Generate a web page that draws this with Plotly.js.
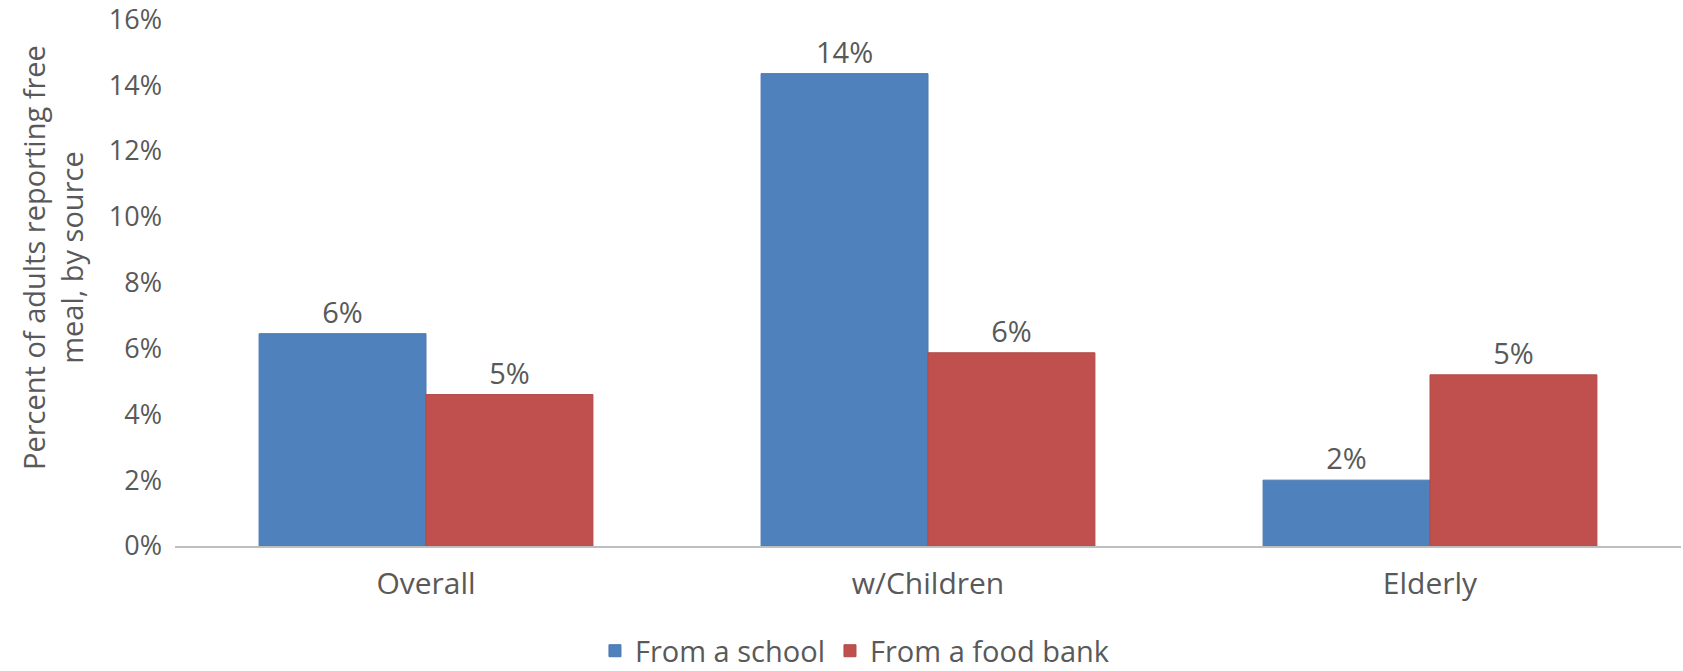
<!DOCTYPE html>
<html>
<head>
<meta charset="utf-8">
<script src="https://cdn.plot.ly/plotly-3.0.1.min.js"></script>
<style>html,body{margin:0;padding:0;background:#fff;}#chart{width:1683px;height:671px;}</style>
</head>
<body>
<div id="chart"></div>
<script>
const categories = ["Overall", "w/Children", "Elderly"];
const seriesNames = ["From a school", "From a food bank"];
const schoolValues = [0.0645, 0.1435, 0.020];
const foodBankValues = [0.046, 0.0587, 0.052];
const tickValues = [0, 0.02, 0.04, 0.06, 0.08, 0.10, 0.12, 0.14, 0.16];
const tickLabels = ["0%", "2%", "4%", "6%", "8%", "10%", "12%", "14%", "16%"];
const yTitle = "Percent of adults reporting free<br>meal, by source";

const FONT = "Open Sans, sans-serif";
const TXT = "#595959";

const traces = [
  {type: "bar", name: seriesNames[0], x: categories, y: schoolValues,
   marker: {color: "#4F81BD", line: {color: "#4A78B0", width: 1}},
   texttemplate: "%{y:.0%}", textposition: "outside", cliponaxis: false,
   textfont: {family: FONT, size: 29, color: TXT}, hoverinfo: "skip"},
  {type: "bar", name: seriesNames[1], x: categories, y: foodBankValues,
   marker: {color: "#C0504D", line: {color: "#B04A47", width: 1}},
   texttemplate: "%{y:.0%}", textposition: "outside", cliponaxis: false,
   textfont: {family: FONT, size: 29, color: TXT}, hoverinfo: "skip"}
];

const layout = {
  width: 1683, height: 671,
  margin: {l: 175, r: 2, t: 19, b: 125},
  paper_bgcolor: "#ffffff", plot_bgcolor: "#ffffff",
  font: {family: FONT, size: 26, color: TXT},
  barmode: "group", bargap: 0.335, bargroupgap: 0,
  showlegend: true,
  legend: {orientation: "h", xref: "container", yref: "container", x: 0.508, xanchor: "center",
           y: 0.03, yanchor: "middle", font: {family: FONT, size: 29, color: TXT}, traceorder: "normal",
           itemwidth: 30},
  xaxis: {type: "category", showgrid: false, zeroline: false, showline: true, linecolor: "#BFBFBF", linewidth: 2,
          ticks: "", ticklabelstandoff: 10, tickfont: {family: FONT, size: 30, color: TXT}},
  yaxis: {range: [0, 0.1601], tickvals: tickValues, ticktext: tickLabels, showgrid: false, zeroline: false,
          showline: false, ticks: "", ticklabelstandoff: 12, ticklabeloverflow: "allow",
          tickfont: {family: FONT, size: 27, color: TXT}},
  annotations: [{text: yTitle, xref: "paper", yref: "paper", x: -0.081, y: 0.5465,
                 xanchor: "center", yanchor: "middle", textangle: -90, showarrow: false,
                 font: {family: FONT, size: 29, color: TXT}}]
};

Plotly.newPlot("chart", traces, layout, {displayModeBar: false, staticPlot: true});
</script>
</body>
</html>
